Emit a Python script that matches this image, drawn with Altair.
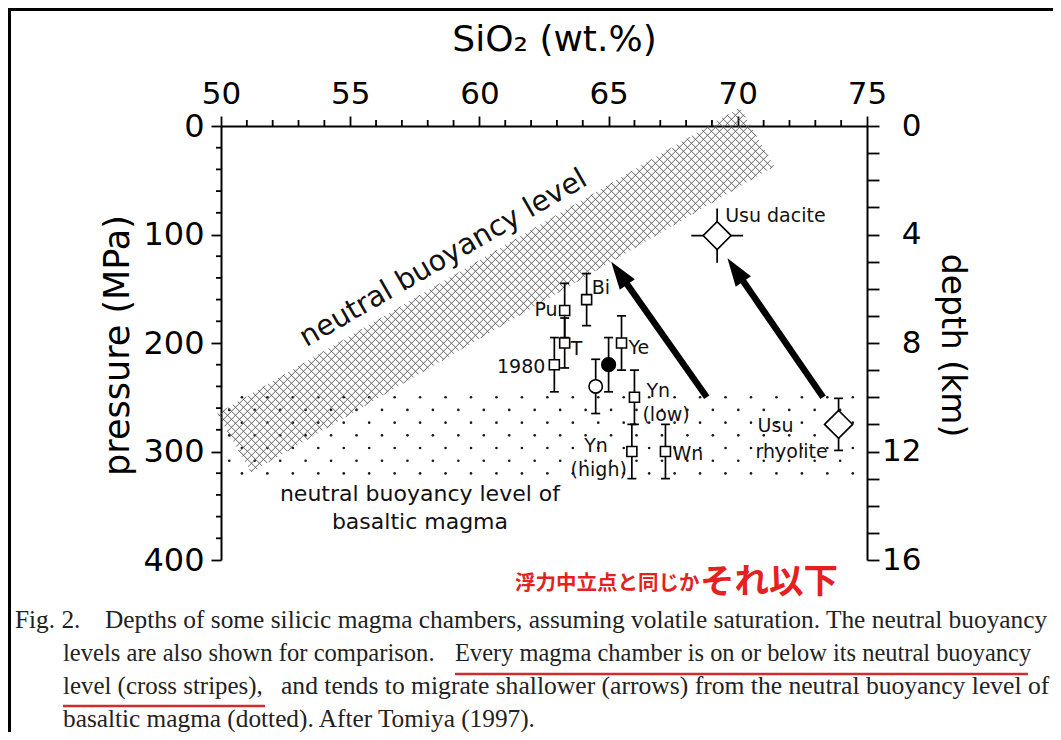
import math
import numpy as np
import pandas as pd
import altair as alt

# ---------------- values ----------------
samples = ["Pu", "Bi", "T", "1980", "filled circle", "open circle", "Ye",
           "Yn (low)", "Yn (high)", "Wn", "Usu dacite", "Usu rhyolite"]
sio2 = [63.3, 64.15, 63.3, 62.9, 65.0, 64.5, 65.5, 66.0, 65.9, 67.2, 69.2, 73.9]
pressure = [170, 160, 200, 220, 220, 240, 200, 250, 300, 300, 101, 275]
pressure_err = [25, 24, 23, 25, 25, 25, 25, 25, 25, 25, 25, 24]
sio2_err = [0, 0, 0, 0, 0, 0, 0, 0, 0, 0, 1.0, 0]
marker = ["square", "square", "square", "square", "filled circle", "open circle",
          "square", "square", "square", "square", "diamond", "diamond"]

# neutral buoyancy level (cross stripes): corners of the band
band_sio2 = [49.85, 51.17, 71.41, 70.08]
band_pressure = [265.1, 319.2, 37.2, -16.9]

# neutral buoyancy level of basaltic magma (dotted): rows of dots
basalt_rows_pressure = [250, 261.7, 273.4, 285.1, 296.8, 308.5, 320.2]
basalt_dot_start = [50.81, 50.32]
basalt_dot_step = 0.985
basalt_sio2_max = 74.8

# migration arrows (tail -> head)
arrow_from_sio2 = [68.8, 73.3]
arrow_from_pressure = [250, 250]
arrow_to_sio2 = [65.1, 69.6]
arrow_to_pressure = [125, 122]

# axis ticks
sio2_major = [50, 55, 60, 65, 70, 75]
sio2_minor = [v for v in range(50, 76) if v % 5]
pressure_major = [0, 100, 200, 300, 400]
pressure_minor = [v for v in range(0, 401, 20) if v % 100]
depth_ticks = list(range(0, 17))

# ---------------- layout ----------------
W, H = 646, 434
PAD = {"left": 213, "top": 118, "right": 186, "bottom": 172}
SANS = "DejaVu Sans"
SERIF = "Liberation Serif"
CJK = "Noto Sans CJK JP"
RED = "#e3221f"
LINE_RED = "#d42a2e"

X0, X1, P0, P1 = 50, 75, 0, 400
xs = alt.Scale(domain=[X0, X1], nice=False, zero=False)
ys = alt.Scale(domain=[P0, P1], reverse=True, nice=False, zero=False)

XAXIS = alt.Axis(
    orient="top", values=sio2_major, title="SiO₂ (wt.%)",
    titleFont=SANS, titleFontSize=36, titleFontWeight="normal", titleColor="black",
    titleX=333, titleY=-76, titleAlign="center", titleBaseline="alphabetic", titleAngle=0,
    labelFont=SANS, labelFontSize=31, labelColor="black", labelPadding=13,
    labelBaseline="alphabetic", labelFlush=False, labelOverlap=False,
    tickSize=10, tickWidth=1.8, tickColor="black",
    domainColor="black", domainWidth=2, grid=False)
YAXIS = alt.Axis(
    orient="left", values=pressure_major, title="pressure (MPa)",
    titleFont=SANS, titleFontSize=35, titleFontWeight="normal", titleColor="black",
    titleX=-104, titleY=219, titleAlign="center", titleBaseline="middle", titleAngle=270,
    labelFont=SANS, labelFontSize=32, labelColor="black", labelPadding=7,
    labelFlush=False, labelOverlap=False,
    tickSize=10, tickWidth=1.8, tickColor="black",
    domainColor="black", domainWidth=2, grid=False)


def sx(s):
    return (np.asarray(s, dtype=float) - X0) / (X1 - X0) * W


def sy(p):
    return (np.asarray(p, dtype=float) - P0) / (P1 - P0) * H


def ix(px):
    return X0 + np.asarray(px, dtype=float) / W * (X1 - X0)


def iy(py):
    return P0 + np.asarray(py, dtype=float) / H * (P1 - P0)


def X(f):
    return alt.X(f, type="quantitative", scale=xs, axis=XAXIS)


def Y(f):
    return alt.Y(f, type="quantitative", scale=ys, axis=YAXIS)


def XD(v):
    return alt.XDatum(v, type="quantitative", scale=xs, axis=XAXIS)


def YD(v):
    return alt.YDatum(v, type="quantitative", scale=ys, axis=YAXIS)


one = pd.DataFrame({"k": [0]})

pts = pd.DataFrame({
    "sample": samples, "sio2": sio2, "pressure": pressure,
    "perr": pressure_err, "serr": sio2_err, "marker": marker,
})
pts["p_lo"] = pts["pressure"] - pts["perr"]
pts["p_hi"] = pts["pressure"] + pts["perr"]
pts["s_lo"] = pts["sio2"] - pts["serr"]
pts["s_hi"] = pts["sio2"] + pts["serr"]

# ---------------- cross-stripe texture clipped to the band ----------------
poly = list(zip(sx(band_sio2), sy(band_pressure)))
n = len(poly)
area = sum(poly[i][0] * poly[(i + 1) % n][1] - poly[(i + 1) % n][0] * poly[i][1] for i in range(n))


def clip(p0, d):
    tmin, tmax = -1e9, 1e9
    for i in range(n):
        ax_, ay_ = poly[i]
        bx_, by_ = poly[(i + 1) % n]
        ex, ey = bx_ - ax_, by_ - ay_
        nx, ny = (-ey, ex) if area > 0 else (ey, -ex)
        num = nx * (p0[0] - ax_) + ny * (p0[1] - ay_)
        den = nx * d[0] + ny * d[1]
        if abs(den) < 1e-12:
            if num < 0:
                return None
            continue
        t = -num / den
        if den > 0:
            tmin = max(tmin, t)
        else:
            tmax = min(tmax, t)
    if tmax - tmin < 1e-6:
        return None
    return (p0[0] + tmin * d[0], p0[1] + tmin * d[1], p0[0] + tmax * d[0], p0[1] + tmax * d[1])


HATCH = 8.0
segs = []
for sign in (1, -1):
    cs = [py_ - sign * px_ for px_, py_ in poly]
    c = min(cs) + HATCH / 2
    while c < max(cs):
        r = clip((0.0, c), (1.0, float(sign)))
        if r:
            segs.append(r)
        c += HATCH
seg = np.array(segs)
hatch = pd.DataFrame({"x1": ix(seg[:, 0]), "y1": iy(seg[:, 1]),
                      "x2": ix(seg[:, 2]), "y2": iy(seg[:, 3])})

# ---------------- dotted texture ----------------
dots = []
for i, p in enumerate(basalt_rows_pressure):
    s = basalt_dot_start[i % 2]
    while s <= basalt_sio2_max:
        dots.append((s, p))
        s += basalt_dot_step
dots = pd.DataFrame(dots, columns=["sio2", "pressure"])

# ---------------- arrows ----------------
arr = pd.DataFrame({"fs": arrow_from_sio2, "fp": arrow_from_pressure,
                    "ts": arrow_to_sio2, "tp": arrow_to_pressure})
HEAD = 28.0
dxp = sx(arr["fs"]) - sx(arr["ts"])
dyp = sy(arr["fp"]) - sy(arr["tp"])
ln = np.hypot(dxp, dyp)
arr["angle"] = (np.degrees(np.arctan2(-dxp, dyp)) + 360) % 360
arr["es"] = ix(sx(arr["ts"]) + dxp / ln * HEAD * 0.6)
arr["ep"] = iy(sy(arr["tp"]) + dyp / ln * HEAD * 0.6)

# ---------------- layers ----------------
layers = []

# minor ticks
layers.append(alt.Chart(pd.DataFrame({"sio2": sio2_minor})).mark_rule(color="black", strokeWidth=1.8)
              .encode(x=X("sio2"), y=alt.value(0), y2=alt.value(-6)))
layers.append(alt.Chart(pd.DataFrame({"pressure": pressure_minor})).mark_rule(color="black", strokeWidth=1.8)
              .encode(y=Y("pressure"), x=alt.value(0), x2=alt.value(-5)))

# dotted region
layers.append(alt.Chart(dots).mark_point(filled=True, color="#1a1a1a", size=7, opacity=1)
              .encode(x=X("sio2"), y=Y("pressure")))

# cross stripes
layers.append(alt.Chart(hatch).mark_rule(color="#555555", strokeWidth=0.9)
              .encode(x=X("x1"), y=Y("y1"), x2="x2:Q", y2="y2:Q"))

# region labels
layers.append(alt.Chart(one).mark_text(text="neutral buoyancy level", font=SANS, fontSize=28.5,
                                       angle=330, align="center", baseline="alphabetic", color="#111")
              .encode(x=XD(58.77), y=YD(128.8)))
layers.append(alt.Chart(one).mark_text(text="neutral buoyancy level of", font=SANS, fontSize=22,
                                       align="center", baseline="alphabetic", color="#111")
              .encode(x=XD(57.7), y=YD(345.2)))
layers.append(alt.Chart(one).mark_text(text="basaltic magma", font=SANS, fontSize=22,
                                       align="center", baseline="alphabetic", color="#111")
              .encode(x=XD(57.7), y=YD(371.6)))

# arrows
layers.append(alt.Chart(arr).mark_rule(color="black", strokeWidth=6.5, strokeCap="butt")
              .encode(x=X("fs"), y=Y("fp"), x2="es:Q", y2="ep:Q"))
layers.append(alt.Chart(arr).mark_point(shape="M0,0L0.33,1L-0.33,1Z", filled=True, color="black",
                                        size=(2 * HEAD) ** 2, opacity=1)
              .encode(x=X("ts"), y=Y("tp"), angle=alt.Angle("angle:Q", scale=None)))

# error bars
layers.append(alt.Chart(pts).mark_rule(color="black", strokeWidth=1.7)
              .encode(x=X("sio2"), y=Y("p_lo"), y2="p_hi:Q"))
capped = alt.Chart(pts).transform_filter("datum.sample != 'Usu dacite'")
for f in ("p_lo", "p_hi"):
    layers.append(capped.mark_tick(orient="horizontal", size=9, thickness=1.7, color="black", opacity=1)
                  .encode(x=X("sio2"), y=Y(f)))
layers.append(alt.Chart(pts).transform_filter("datum.serr > 0").mark_rule(color="black", strokeWidth=1.7)
              .encode(x=X("s_lo"), x2="s_hi:Q", y=Y("pressure")))

# markers
layers.append(alt.Chart(pts).transform_filter("datum.marker == 'square'")
              .mark_point(shape="square", filled=True, fill="white", stroke="black", strokeWidth=1.6,
                          size=100, opacity=1)
              .encode(x=X("sio2"), y=Y("pressure")))
layers.append(alt.Chart(pts).transform_filter("datum.marker == 'open circle'")
              .mark_point(shape="circle", filled=True, fill="white", stroke="black", strokeWidth=1.6,
                          size=180, opacity=1)
              .encode(x=X("sio2"), y=Y("pressure")))
layers.append(alt.Chart(pts).transform_filter("datum.marker == 'filled circle'")
              .mark_point(shape="circle", filled=True, color="black", size=230, opacity=1)
              .encode(x=X("sio2"), y=Y("pressure")))
layers.append(alt.Chart(pts).transform_filter("datum.marker == 'diamond'")
              .mark_point(shape="diamond", filled=True, fill="white", stroke="black", strokeWidth=1.6,
                          size=784, opacity=1)
              .encode(x=X("sio2"), y=Y("pressure")))

# point labels: (sample, text, dx, dy, align)
label_specs = [
    ("Pu", "Pu", -7, 0, "right"),
    ("Bi", "Bi", 5, -12, "left"),
    ("T", "T", 6, 6, "left"),
    ("1980", "1980", -9, 2, "right"),
    ("Ye", "Ye", 7, 5, "left"),
    ("Yn (low)", "Yn", 12, -6, "left"),
    ("Yn (low)", "(low)", 8, 18, "left"),
    ("Yn (high)", "Yn", -24, -6, "right"),
    ("Yn (high)", "(high)", -5, 18, "right"),
    ("Wn", "Wn", 7, 2, "left"),
    ("Usu dacite", "Usu dacite", 8, -20, "left"),
    ("Usu rhyolite", "Usu", -81, 2, "left"),
    ("Usu rhyolite", "rhyolite", -83, 28, "left"),
]
for smp, txt, dx, dy, al in label_specs:
    layers.append(alt.Chart(pts).transform_filter(alt.datum.sample == smp)
                  .mark_text(text=txt, dx=dx, dy=dy, align=al, baseline="middle", font=SANS,
                             fontSize=19, color="#111")
                  .encode(x=X("sio2"), y=Y("pressure")))

# ---------------- page annotations (pixel positions relative to plot origin) ----------------
OX, OY = 8 + PAD["left"], 8 + PAD["top"]


def page_text(txt, px, py, size, font, color="#1a1a1a", weight="normal", align="left"):
    return alt.Chart(one).mark_text(text=txt, font=font, fontSize=size, color=color, fontWeight=weight,
                                    align=align, baseline="alphabetic").encode(
        x=alt.value(px - OX), y=alt.value(py - OY))


def page_rule(x1, y1, x2, y2, color, width):
    return alt.Chart(one).mark_rule(color=color, strokeWidth=width).encode(
        x=alt.value(x1 - OX), x2=alt.value(x2 - OX), y=alt.value(y1 - OY), y2=alt.value(y2 - OY))


# frame
layers.append(page_rule(8, 9.5, 1061, 9.5, "black", 3))
layers.append(page_rule(9.5, 8, 9.5, 740, "black", 3))

# red Japanese note
layers.append(page_text("浮力中立点と同じか", 515, 590, 20.5, CJK, RED, "bold"))
layers.append(page_text("それ以下", 700, 593, 34.5, CJK, RED, "bold"))

# caption (segments placed as in the justified original)
caption = [
    ("Fig. 2.", 15, 628, 25.3),
    ("Depths of some silicic magma chambers, assuming volatile saturation. The neutral buoyancy", 105, 628, 25.4),
    ("levels are also shown for comparison.", 63, 661, 24.6),
    ("Every magma chamber is on or below its neutral buoyancy", 455, 661, 24.45),
    ("level (cross stripes),", 63, 694, 24.9),
    ("and tends to migrate shallower (arrows) from the neutral buoyancy level of", 281, 694, 25.6),
    ("basaltic magma (dotted). After Tomiya (1997).", 63, 727, 25.3),
]
for txt, px, py, size in caption:
    layers.append(page_text(txt, px, py, size, SERIF, "#222222"))
layers.append(page_rule(455, 674, 1028, 674, LINE_RED, 2.5))
layers.append(page_rule(63, 706, 265, 706, LINE_RED, 2.5))

main = alt.layer(*layers)

depth_layer = alt.Chart(pd.DataFrame({"depth": depth_ticks})).mark_point(opacity=0).encode(
    y=alt.Y("depth:Q", scale=alt.Scale(domain=[0, 16], reverse=True, nice=False, zero=False),
            axis=alt.Axis(orient="right", values=depth_ticks, title="depth (km)",
                          labelExpr="datum.value % 4 === 0 ? datum.label : ''",
                          titleFont=SANS, titleFontSize=33, titleFontWeight="normal", titleColor="black",
                          titleX=84, titleY=219, titleAlign="center", titleBaseline="middle", titleAngle=90,
                          labelFont=SANS, labelFontSize=31, labelColor="black", labelAlign="right",
                          labelPadding=42, labelFlush=False, labelOverlap=False,
                          tickSize=12, tickWidth=1.8, tickColor="black",
                          domainColor="black", domainWidth=2, grid=False))
)

chart = (
    alt.layer(main, depth_layer)
    .resolve_scale(y="independent")
    .properties(width=W, height=H, padding=PAD, autosize=alt.AutoSizeParams(type="none"))
    .configure(background="white")
    .configure_view(stroke=None)
)

chart.save("out.html", embed_options={"renderer": "svg", "actions": False})
